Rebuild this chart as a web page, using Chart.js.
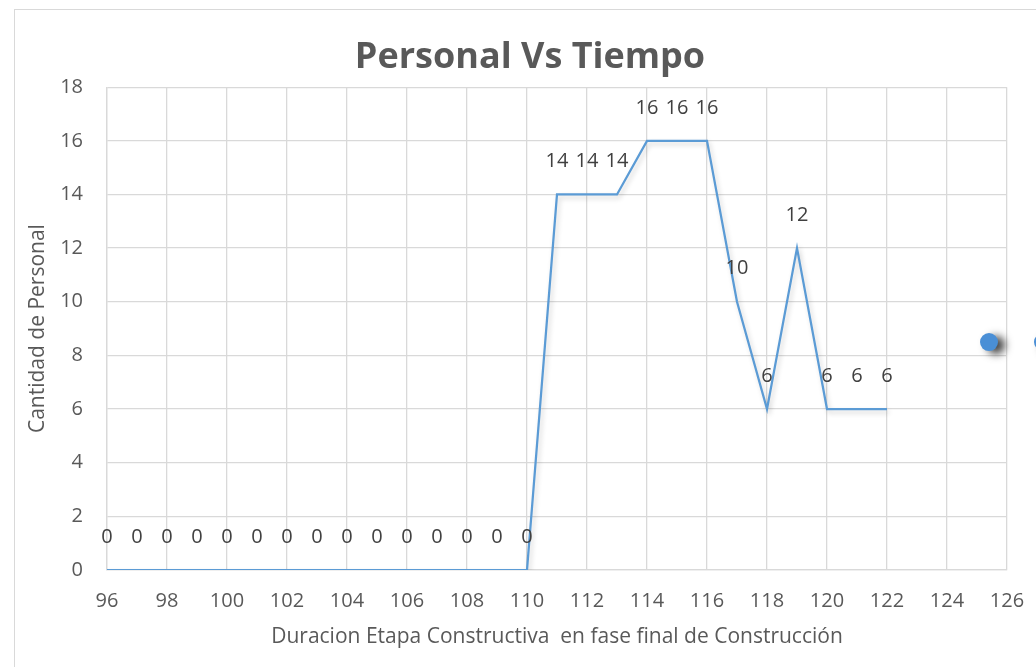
<!DOCTYPE html>
<html>
<head>
<meta charset="utf-8">
<script src="https://cdn.jsdelivr.net/npm/chart.js@4.4.1/dist/chart.umd.min.js"></script>
<style>
  html, body { margin: 0; padding: 0; background: #fff; overflow: hidden; }
  #wrap { position: relative; width: 1036px; height: 667px; overflow: hidden; }
  #frame { position: absolute; left: 14px; top: 9px; width: 1032px; height: 700px; border: 1px solid #d9d9d9; box-sizing: border-box; }
  canvas { position: absolute; left: 0; top: 0; }
</style>
</head>
<body>
<div id="wrap">
  <div id="frame"></div>
  <canvas id="personalChart" width="1060" height="667"></canvas>
</div>
<script>
// Dias (eje x) y personal en cada dia
const dias = [96, 97, 98, 99, 100, 101, 102, 103, 104, 105, 106, 107, 108, 109, 110,
              111, 112, 113, 114, 115, 116, 117, 118, 119, 120, 121, 122];
const personal = [0, 0, 0, 0, 0, 0, 0, 0, 0, 0, 0, 0, 0, 0, 0,
                  14, 14, 14, 16, 16, 16, 10, 6, 12, 6, 6, 6];

// puntos sueltos a la derecha (aparecen en la imagen, el segundo cortado)
const puntosX = [125.4, 127.2];
const puntosY = [8.5, 8.5];

const xTicks = [96, 98, 100, 102, 104, 106, 108, 110, 112, 114, 116, 118, 120, 122, 124, 126];
const yTicks = [0, 2, 4, 6, 8, 10, 12, 14, 16, 18];

const fuente = "'Open Sans', 'DejaVu Sans', sans-serif";

// Etiquetas de datos encima de cada punto
const etiquetasPlugin = {
  id: 'etiquetas',
  afterDatasetsDraw(chart) {
    const ctx = chart.ctx;
    const meta = chart.getDatasetMeta(0);
    ctx.save();
    ctx.font = '20px ' + fuente;
    ctx.fillStyle = '#404040';
    ctx.textAlign = 'center';
    ctx.textBaseline = 'middle';
    meta.data.forEach((pt, i) => {
      ctx.fillText(String(personal[i]), pt.x, pt.y - 33);
    });
    ctx.restore();
  }
};

// sombra suave para la linea; los puntos sueltos se dibujan sin recorte del area
const sombraPlugin = {
  id: 'sombra',
  beforeDatasetDraw(chart, args) {
    const ctx = chart.ctx;
    if (args.index === 1) {
      ctx.save();
      ctx.shadowColor = 'rgba(0,0,0,0.75)';
      ctx.shadowBlur = 8;
      ctx.shadowOffsetX = 7;
      ctx.shadowOffsetY = 3;
      args.meta.data.forEach(p => p.draw(ctx));
      ctx.restore();
      return false;
    }
    ctx.save();
    ctx.shadowColor = 'rgba(0,0,0,0.18)';
    ctx.shadowBlur = 5;
    ctx.shadowOffsetX = 2;
    ctx.shadowOffsetY = 3;
  },
  afterDatasetDraw(chart, args) {
    if (args.index === 0) chart.ctx.restore();
  }
};

const ctxChart = document.getElementById('personalChart');

const chart = new Chart(ctxChart, {
  type: 'scatter',
  data: {
    datasets: [{
      label: 'Personal',
      data: dias.map((d, i) => ({ x: d, y: personal[i] })),
      showLine: true,
      borderColor: '#5b9bd5',
      borderWidth: 2.25,
      pointRadius: 0,
      tension: 0
    }, {
      label: 'Puntos',
      data: puntosX.map((x, i) => ({ x: x, y: puntosY[i] })),
      showLine: false,
      backgroundColor: '#4a8fd6',
      borderWidth: 0,
      pointRadius: 9,
      clip: false
    }]
  },
  options: {
    responsive: false,
    animation: false,
    layout: { padding: 0 },
    plugins: {
      legend: { display: false },
      tooltip: { enabled: false },
      title: {
        display: true,
        text: 'Personal Vs Tiempo',
        color: '#595959',
        font: { family: fuente, size: 36, weight: 'bold' },
        padding: { top: 36, bottom: 8 }
      }
    },
    scales: {
      x: {
        type: 'linear',
        min: 96,
        max: 126,
        afterBuildTicks: s => { s.ticks = xTicks.map(v => ({ value: v })); },
        afterFit: s => { s.height = 97; s.paddingLeft = 0; s.paddingRight = 53; },
        grid: { color: '#d9d9d9', lineWidth: 1.3, drawTicks: false },
        border: { color: '#d9d9d9', width: 1.3 },
        ticks: { color: '#595959', font: { family: fuente, size: 20 }, padding: 19, maxRotation: 0, autoSkip: false },
        title: {
          display: true,
          text: 'Duracion Etapa Constructiva  en fase final de Construcción',
          color: '#595959',
          font: { family: fuente, size: 21 },
          padding: { top: 0, bottom: 17 }
        }
      },
      y: {
        min: 0,
        max: 18,
        afterBuildTicks: s => { s.ticks = yTicks.map(v => ({ value: v })); },
        afterFit: s => { s.width = 107; },
        grid: { color: '#d9d9d9', lineWidth: 1.3, drawTicks: false },
        border: { color: '#d9d9d9', width: 1.3 },
        ticks: { color: '#595959', font: { family: fuente, size: 20 }, padding: 24 },
        title: {
          display: true,
          text: 'Cantidad de Personal',
          color: '#595959',
          font: { family: fuente, size: 21 },
          padding: { top: 25, bottom: 0 }
        }
      }
    }
  },
  plugins: [sombraPlugin, etiquetasPlugin]
});
</script>
</body>
</html>
